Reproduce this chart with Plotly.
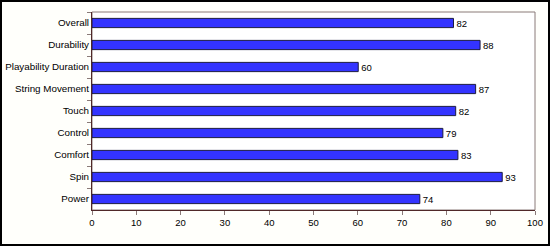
import plotly.graph_objects as go

categories = ["Overall", "Durability", "Playability Duration", "String Movement",
              "Touch", "Control", "Comfort", "Spin", "Power"]
values = [81.6, 87.6, 60.1, 86.6, 82.1, 79.2, 82.6, 92.6, 74.0]
x_ticks = [0, 10, 20, 30, 40, 50, 60, 70, 80, 90, 100]

FONT = "Liberation Sans"
L, R, T, B = 92, 15, 12, 36
PW, PH = 550 - L - R, 246 - T - B

fig = go.Figure(go.Bar(
    x=values, y=categories, orientation="h",
    width=0.42,
    marker=dict(color="#3333ff", line=dict(color="#1a1a40", width=1)),
    text=[f"{v:.0f}" for v in values],
    textposition="outside", cliponaxis=False, constraintext="none",
    textfont=dict(family=FONT, size=9.5, color="#000000"),
))

fig.update_layout(
    template="none",
    width=550, height=246,
    margin=dict(l=L, r=R, t=T, b=B, pad=0, autoexpand=False),
    paper_bgcolor="#fffffb", plot_bgcolor="#ffffff",
    showlegend=False,
    font=dict(family=FONT, size=9.5, color="#000000"),
    xaxis=dict(range=[0, 100], tickvals=x_ticks, showgrid=False, zeroline=False,
               automargin=False,
               showline=True, linecolor="#502828", linewidth=1,
               ticks="outside", ticklen=4, tickcolor="#8a7a78",
               tickfont=dict(family=FONT, size=9.5, color="#000000")),
    yaxis=dict(categoryorder="array", categoryarray=categories, autorange="reversed",
               showgrid=False, zeroline=False, automargin=False,
               showline=True, linecolor="#502828", linewidth=1,
               ticks="outside", tickson="boundaries", ticklen=4, tickcolor="#8a7a78",
               tickfont=dict(family=FONT, size=9.8, color="#000000")),
    shapes=[
        dict(type="rect", xref="paper", yref="paper", x0=0, x1=1, y0=0, y1=1,
             line=dict(color="#8a7a78", width=1), layer="below"),
        dict(type="rect", xref="paper", yref="paper",
             x0=-(L - 1) / PW, x1=1 + (R - 1) / PW, y0=-(B - 1) / PH, y1=1 + (T - 1) / PH,
             line=dict(color="#000000", width=2), layer="above"),
    ],
)

fig.write_html("out.html")
